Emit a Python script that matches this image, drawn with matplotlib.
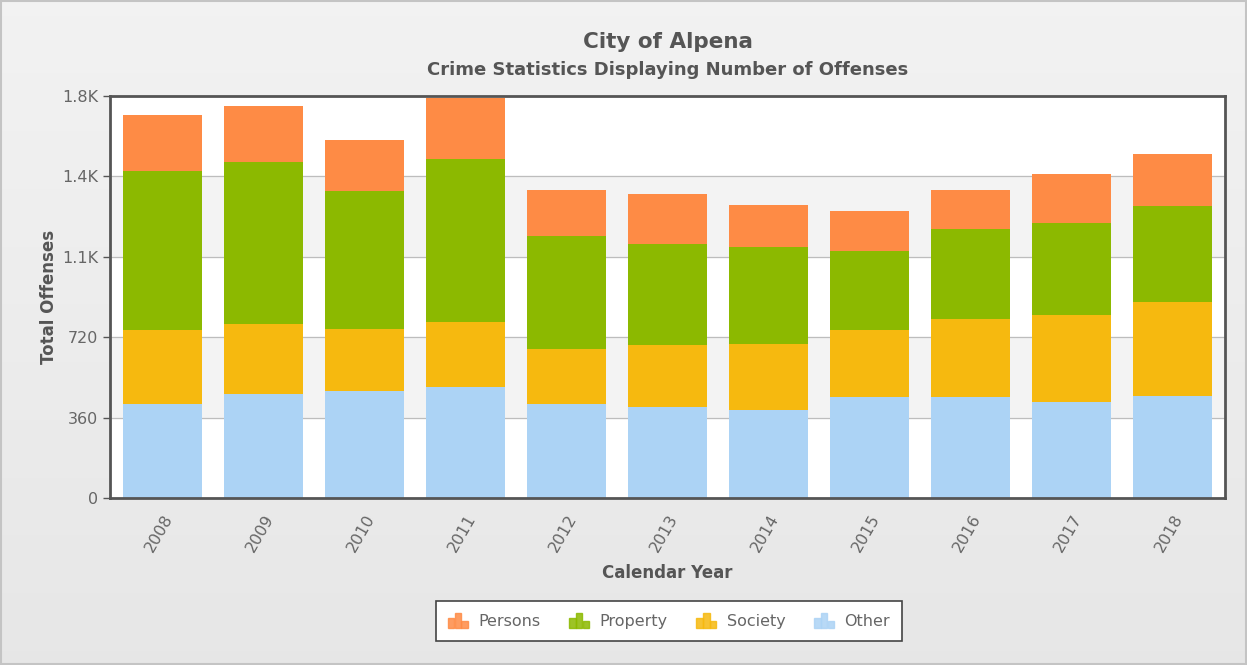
import numpy as np
import matplotlib
matplotlib.use("Agg")
import matplotlib.pyplot as plt
from matplotlib.legend_handler import HandlerBase
from matplotlib.patches import Rectangle

years = ["2008", "2009", "2010", "2011", "2012", "2013", "2014", "2015", "2016", "2017", "2018"]
other = [421, 466, 478, 496, 421, 409, 394, 451, 454, 428, 456]
society = [333, 315, 280, 292, 248, 274, 297, 300, 349, 390, 422]
property_ = [712, 724, 618, 730, 506, 453, 432, 356, 401, 415, 430]
persons = [248, 250, 226, 271, 202, 226, 188, 180, 173, 219, 234]

y_ticks = [0, 360, 720, 1080, 1440, 1800]
y_tick_labels = ["0", "360", "720", "1.1K", "1.4K", "1.8K"]

colors = {"Persons": "#fe8b45", "Property": "#8cb900", "Society": "#f6b90f", "Other": "#acd3f5"}
text_col = "#555555"


class BarIconHandler(HandlerBase):
    # little bar chart icon like the original legend
    def create_artists(self, legend, orig_handle, xdescent, ydescent, width, height, fontsize, trans):
        c = orig_handle.get_facecolor()
        arts = []
        bw = width / 3.2
        for i, h in enumerate([0.7, 1.0, 0.45]):
            r = Rectangle((-xdescent + i * bw * 1.05, -ydescent), bw, height * h,
                          facecolor=c, edgecolor=c, alpha=0.85, transform=trans)
            arts.append(r)
        return arts


fig = plt.figure(figsize=(12.47, 6.65), dpi=100, facecolor="#ececec")

# soft vertical gradient behind everything + thin outer border
bg = fig.add_axes([0, 0, 1, 1], zorder=-10)
grad = np.linspace(0.95, 0.905, 256).reshape(-1, 1)
bg.imshow(np.dstack([grad, grad, grad]), aspect="auto", extent=[0, 1, 0, 1])
bg.add_patch(Rectangle((0.001, 0.002), 0.998, 0.996, fill=False, edgecolor="#c4c4c4", lw=1.5))
bg.set_xlim(0, 1)
bg.set_ylim(0, 1)
bg.axis("off")

ax = fig.add_axes([110 / 1247, 1 - 498 / 665, 1115 / 1247, 402 / 665])
ax.set_facecolor("white")

# alternating bands
for lo, hi in [(360, 720), (1080, 1440)]:
    ax.axhspan(lo, hi, color="#f3f3f3", zorder=0)
for t in y_ticks[1:-1]:
    ax.axhline(t, color="#bdbdbd", lw=0.9, zorder=1)

x = np.arange(len(years))
w = 0.79
b1 = np.array(other)
b2 = b1 + np.array(society)
b3 = b2 + np.array(property_)
ax.bar(x, other, w, color=colors["Other"], zorder=2, label="Other")
ax.bar(x, society, w, bottom=b1, color=colors["Society"], zorder=2, label="Society")
ax.bar(x, property_, w, bottom=b2, color=colors["Property"], zorder=2, label="Property")
ax.bar(x, persons, w, bottom=b3, color=colors["Persons"], zorder=2, label="Persons")

ax.set_xlim(-0.52, len(years) - 0.48)
ax.set_ylim(0, 1800)
ax.set_yticks(y_ticks)
ax.set_yticklabels(y_tick_labels)
ax.set_xticks(x)
ax.set_xticklabels(years, rotation=60, ha="right", rotation_mode="anchor")
ax.tick_params(axis="y", colors="#666666", labelsize=11.5, length=5, width=1, color="#555555")
ax.tick_params(axis="x", colors="#666666", labelsize=11.5, length=0, pad=10)
for s in ax.spines.values():
    s.set_color("#555555")
    s.set_linewidth(2)

ax.set_xlabel("Calendar Year", fontsize=12, fontweight="bold", color=text_col, labelpad=7)
ax.set_ylabel("Total Offenses", fontsize=12, fontweight="bold", color=text_col, labelpad=3)

fig.text(668 / 1247, 1 - 42 / 665, "City of Alpena", ha="center", va="center",
         fontsize=15.5, fontweight="bold", color=text_col)
fig.text(668 / 1247, 1 - 70 / 665, "Crime Statistics Displaying Number of Offenses",
         ha="center", va="center", fontsize=13, fontweight="bold", color=text_col)

handles = [Rectangle((0, 0), 1, 1, facecolor=colors[k]) for k in ["Persons", "Property", "Society", "Other"]]
leg = fig.legend(handles, ["Persons", "Property", "Society", "Other"], loc="center",
                 bbox_to_anchor=(669 / 1247, 1 - 621 / 665), ncol=4, frameon=True,
                 fancybox=False, fontsize=11.5, handler_map={Rectangle: BarIconHandler()},
                 handlelength=1.3, handleheight=1.1, columnspacing=1.8, handletextpad=0.6,
                 borderpad=0.75, framealpha=1)
leg.get_frame().set_edgecolor("#444444")
leg.get_frame().set_linewidth(1.2)
for t in leg.get_texts():
    t.set_color("#666666")

fig.savefig("out.png", dpi=100, facecolor=fig.get_facecolor())
